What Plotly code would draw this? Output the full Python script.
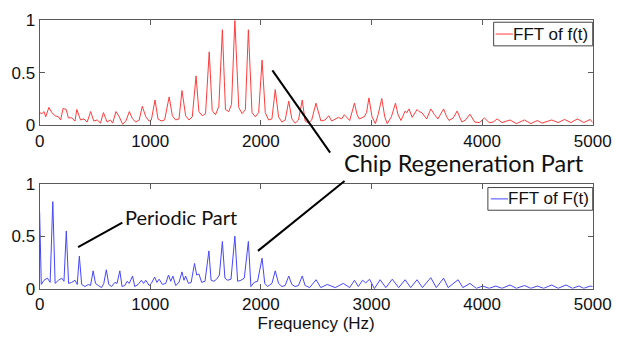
import plotly.graph_objects as go

# ---------------- data ----------------
freq_top = [
    0, 20, 40, 55, 84, 110, 140, 170, 190, 212,
    240, 260, 290, 320, 336, 370, 400, 430, 461, 490,
    520, 550, 577, 610, 640, 660, 690, 720, 750, 780,
    811, 840, 870, 900, 928, 960, 990, 1010, 1043, 1070,
    1100, 1130, 1171, 1200, 1230, 1260, 1287, 1320, 1350, 1380,
    1414, 1440, 1470, 1500, 1533, 1560, 1590, 1620, 1652, 1680,
    1710, 1735, 1765, 1800, 1830, 1860, 1887, 1920, 1950, 1980,
    2011, 2040, 2070, 2100, 2130, 2160, 2190, 2220, 2252, 2280,
    2310, 2340, 2374, 2400, 2430, 2460, 2498, 2543, 2580, 2614,
    2640, 2658, 2701, 2730, 2754, 2803, 2846, 2870, 2890, 2934,
    2955, 2977, 3005, 3035, 3060, 3093, 3120, 3142, 3180, 3217,
    3240, 3267, 3304, 3320, 3339, 3368, 3412, 3430, 3455, 3499,
    3536, 3570, 3600, 3652, 3680, 3701, 3740, 3774, 3817, 3850,
    3890, 3933, 3977, 4020, 4064, 4100, 4136, 4180, 4252, 4310,
    4383, 4441, 4499, 4542, 4580, 4629, 4687, 4745, 4803, 4861,
    4919, 4977, 5000]
amp_top = [
    0.12, 0.11, 0.13, 0.08, 0.17, 0.12, 0.09, 0.08, 0.05, 0.16,
    0.15, 0.07, 0.07, 0.04, 0.15, 0.05, 0.06, 0.03, 0.13, 0.04,
    0.05, 0.02, 0.12, 0.03, 0.05, 0.02, 0.13, 0.08, 0.01, 0.04,
    0.13, 0.06, 0.03, 0.05, 0.18, 0.08, 0.04, 0.05, 0.24, 0.06,
    0.04, 0.05, 0.27, 0.09, 0.05, 0.06, 0.33, 0.09, 0.05, 0.08,
    0.47, 0.13, 0.09, 0.11, 0.70, 0.14, 0.10, 0.18, 0.91, 0.15,
    0.13, 0.20, 1.00, 0.17, 0.11, 0.15, 0.91, 0.12, 0.08, 0.12,
    0.62, 0.12, 0.05, 0.06, 0.34, 0.08, 0.03, 0.05, 0.23, 0.06,
    0.02, 0.05, 0.24, 0.04, 0.02, 0.05, 0.21, 0.04, 0.05, 0.09,
    0.04, 0.05, 0.075, 0.06, 0.10, 0.045, 0.21, 0.10, 0.06, 0.08,
    0.12, 0.26, 0.08, 0.015, 0.10, 0.255, 0.08, 0.015, 0.08, 0.21,
    0.10, 0.045, 0.135, 0.12, 0.155, 0.075, 0.15, 0.13, 0.12, 0.06,
    0.155, 0.10, 0.06, 0.155, 0.08, 0.045, 0.07, 0.135, 0.03, 0.05,
    0.105, 0.03, 0.025, 0.07, 0.025, 0.03, 0.06, 0.025, 0.05, 0.015,
    0.05, 0.015, 0.045, 0.02, 0.03, 0.05, 0.025, 0.055, 0.025, 0.06,
    0.025, 0.055, 0.025]

freq_bot = [
    0, 15, 40, 70, 95, 119, 140, 170, 200, 220,
    241, 262, 290, 320, 340, 359, 380, 410, 440, 460,
    484, 505, 530, 560, 580, 603, 625, 650, 680, 700,
    725, 745, 770, 790, 810, 840, 860, 890, 920, 940,
    960, 990, 1010, 1040, 1060, 1080, 1110, 1140, 1165, 1185,
    1205, 1230, 1260, 1287, 1305, 1320, 1345, 1370, 1400, 1420,
    1440, 1465, 1495, 1530, 1550, 1575, 1600, 1625, 1652, 1675,
    1700, 1730, 1765, 1790, 1820, 1850, 1887, 1910, 1940, 1970,
    2011, 2035, 2060, 2100, 2130, 2160, 2190, 2220, 2252, 2280,
    2310, 2340, 2374, 2400, 2441, 2499, 2542, 2600, 2672, 2745,
    2803, 2846, 2881, 2919, 2948, 2983, 3026, 3078, 3130, 3188,
    3246, 3304, 3354, 3412, 3461, 3536, 3586, 3652, 3693, 3783,
    3826, 3890, 3948, 4006, 4064, 4122, 4180, 4252, 4310, 4383,
    4441, 4499, 4557, 4629, 4687, 4759, 4817, 4875, 4919, 4977,
    5000]
amp_bot = [
    0.73, 0.04, 0.08, 0.10, 0.06, 0.83, 0.05, 0.08, 0.10, 0.07,
    0.55, 0.05, 0.06, 0.08, 0.04, 0.31, 0.04, 0.02, 0.04, 0.03,
    0.17, 0.05, 0.03, 0.01, 0.05, 0.18, 0.04, 0.02, 0.06, 0.05,
    0.17, 0.02, 0.03, 0.07, 0.05, 0.12, 0.02, 0.04, 0.08, 0.05,
    0.08, 0.03, 0.05, 0.11, 0.06, 0.09, 0.04, 0.05, 0.13, 0.07,
    0.12, 0.03, 0.06, 0.16, 0.08, 0.12, 0.05, 0.06, 0.24, 0.13,
    0.14, 0.06, 0.07, 0.36, 0.08, 0.07, 0.09, 0.13, 0.45, 0.10,
    0.08, 0.09, 0.50, 0.07, 0.08, 0.10, 0.45, 0.02, 0.06, 0.07,
    0.29, 0.05, 0.02, 0.05, 0.17, 0.05, 0.02, 0.03, 0.12, 0.04,
    0.02, 0.03, 0.12, 0.03, 0.01, 0.085, 0.01, 0.04, 0.01, 0.05,
    0.01, 0.08, 0.02, 0.08, 0.055, 0.09, 0.00, 0.085, 0.01, 0.09,
    0.01, 0.085, 0.01, 0.085, 0.01, 0.105, 0.01, 0.10, 0.01, 0.085,
    0.01, 0.05, 0.003, 0.025, 0.003, 0.025, 0.003, 0.035, 0.003, 0.03,
    0.003, 0.025, 0.003, 0.035, 0.003, 0.035, 0.003, 0.025, 0.003, 0.025,
    0.02]

x_ticks = [0, 1000, 2000, 3000, 4000, 5000]
y_ticks = [0, 0.5, 1]
y_tick_labels = ["0", "0.5", "1"]

name_top = "FFT of f(t)"
name_bot = "FFT of F(t)"
x_title = "Frequency (Hz)"
label_chip = "Chip Regeneration Part"
label_periodic = "Periodic Part"

assert len(freq_top) == len(amp_top)
assert len(freq_bot) == len(amp_bot)

# ---------------- layout helpers ----------------
W, H = 630, 344
def px(x):
    return x / W
def py(y):
    return 1 - y / H

TICK_FONT = dict(family="Liberation Sans, Arial, Helvetica, sans-serif", size=17, color="#111")
LEG_FONT = dict(family="Liberation Sans, Arial, Helvetica, sans-serif", size=17, color="#111")
RED = "rgb(255,60,60)"
BLUE = "rgb(70,70,255)"
AX = "#5a5a5a"

fig = go.Figure()
fig.add_trace(go.Scatter(x=freq_top, y=amp_top, mode="lines", name=name_top,
                         line=dict(color=RED, width=1), xaxis="x", yaxis="y"))
fig.add_trace(go.Scatter(x=freq_bot, y=amp_bot, mode="lines", name=name_bot,
                         line=dict(color=BLUE, width=1), xaxis="x2", yaxis="y2"))

common = dict(showgrid=False, zeroline=False, showline=True, linecolor=AX, linewidth=1,
              mirror="ticks", ticks="inside", ticklen=5, tickcolor=AX, tickwidth=1,
              tickfont=TICK_FONT, fixedrange=True)

fig.update_layout(
    width=W, height=H,
    margin=dict(l=0, r=0, t=0, b=0),
    paper_bgcolor="white", plot_bgcolor="white",
    showlegend=False,
    xaxis=dict(domain=[px(36), px(611)], range=[0, 5000], tickvals=x_ticks, anchor="y", **common),
    yaxis=dict(domain=[py(123), py(12)], range=[0, 1], tickvals=y_ticks, ticktext=y_tick_labels,
               anchor="x", **common),
    xaxis2=dict(domain=[px(36), px(611)], range=[0, 5000], tickvals=x_ticks, anchor="y2",
                title=dict(text=x_title, font=TICK_FONT, standoff=4), **common),
    yaxis2=dict(domain=[py(296), py(185)], range=[0, 1], tickvals=y_ticks, ticktext=y_tick_labels,
                anchor="x2", **common),
)

# legend boxes (drawn manually to match the compact MATLAB legend)
def legend_box(x0, y0, x1, y1, lx0, lx1, ly, tx, text, color):
    fig.add_shape(type="rect", xref="paper", yref="paper",
                  x0=px(x0), y0=py(y1), x1=px(x1), y1=py(y0),
                  line=dict(color="#444", width=1), fillcolor="white", layer="above")
    fig.add_shape(type="line", xref="paper", yref="paper",
                  x0=px(lx0), y0=py(ly), x1=px(lx1), y1=py(ly),
                  line=dict(color=color, width=1), layer="above")
    fig.add_annotation(text=text, xref="paper", yref="paper", x=px(tx), y=py(ly),
                       xanchor="left", yanchor="middle", showarrow=False, font=LEG_FONT)

legend_box(508, 14, 611, 39, 510, 528, 26.5, 526, name_top, RED)
legend_box(502, 189, 611, 213, 505, 523, 201, 521, name_bot, BLUE)

def seg(x0, y0, x1, y1):
    fig.add_shape(type="line", xref="paper", yref="paper",
                  x0=px(x0), y0=py(y0), x1=px(x1), y1=py(y1),
                  line=dict(color="black", width=2))

seg(278, 65, 338, 152)
seg(353, 182, 263, 256)
seg(122, 226, 76, 252)

fig.add_annotation(text=label_chip, xref="paper", yref="paper", x=px(350), y=py(163),
                   xanchor="left", yanchor="middle", showarrow=False,
                   font=dict(family="Lato, Open Sans, sans-serif", size=23.5, color="#111"))
fig.add_annotation(text=label_periodic, xref="paper", yref="paper", x=px(123), y=py(220),
                   xanchor="left", yanchor="middle", showarrow=False,
                   font=dict(family="Lato, Open Sans, sans-serif", size=20, color="#111"))

fig.write_html("out.html")
